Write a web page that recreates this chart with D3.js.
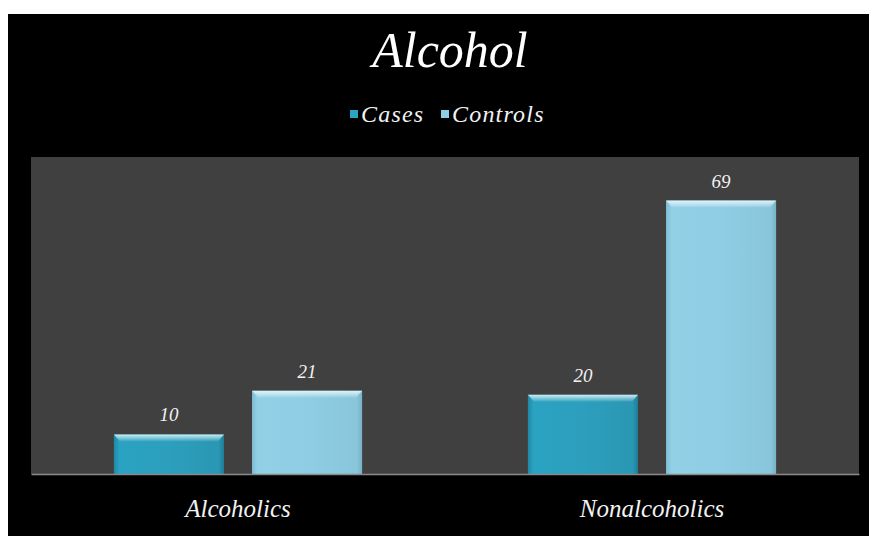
<!DOCTYPE html>
<html>
<head>
<meta charset="utf-8">
<script src="https://cdn.jsdelivr.net/npm/d3@7"></script>
<style>
  html, body { margin: 0; padding: 0; background: #ffffff; }
  svg { display: block; }
  .script { font-family: "Liberation Serif", "DejaVu Serif", serif; font-style: italic; }
</style>
</head>
<body>
<svg id="chart" width="869" height="536"></svg>
<script>
// Chart data
const categories = ["Alcoholics", "Nonalcoholics"];
const seriesNames = ["Cases", "Controls"];
const cases = [10, 20];
const controls = [21, 69];
const yMax = 80;
const chartTitle = "Alcohol";

const W = 869, H = 536;
const svg = d3.select("#chart");

// Outer chart background
svg.append("rect").attr("x", 8).attr("y", 14).attr("width", W - 8).attr("height", H - 14).attr("fill", "#000");

// Plot area
const plot = { left: 31, right: 859, top: 157, bottom: 474 };
svg.append("rect")
  .attr("x", plot.left).attr("y", plot.top)
  .attr("width", plot.right - plot.left).attr("height", plot.bottom - plot.top)
  .attr("fill", "#404040");

const x0 = d3.scaleBand().domain(categories).range([plot.left, plot.right]).paddingInner(0).paddingOuter(0);
const x1 = d3.scaleBand().domain(seriesNames).range([0, x0.bandwidth()]).paddingInner(0.203).paddingOuter(0.6);
const y = d3.scaleLinear().domain([0, yMax]).range([plot.bottom, plot.top]);

// Gradients for bar fills
const defs = svg.append("defs");
function hgrad(id, stops) {
  const g = defs.append("linearGradient").attr("id", id).attr("x1", "0").attr("x2", "1").attr("y1", "0").attr("y2", "0");
  stops.forEach(([o, c]) => g.append("stop").attr("offset", o).attr("stop-color", c));
}
hgrad("gCases", [[0, "#1f89a6"], [0.05, "#2aa2c1"], [0.5, "#2c9fbd"], [0.95, "#2a97b4"], [1, "#1d7e99"]]);
hgrad("gControls", [[0, "#7dbcd3"], [0.05, "#92d0e6"], [0.5, "#8ecde3"], [0.95, "#89c6dc"], [1, "#76b3c9"]]);
const vg = defs.append("linearGradient").attr("id", "gTop").attr("x1", "0").attr("x2", "0").attr("y1", "0").attr("y2", "1");
vg.append("stop").attr("offset", 0).attr("stop-color", "#e8fcff").attr("stop-opacity", 0.85);
vg.append("stop").attr("offset", 1).attr("stop-color", "#ffffff").attr("stop-opacity", 0.05);

const seriesData = [
  { name: "Cases", values: cases, fill: "url(#gCases)", swatch: "#2ba3c2" },
  { name: "Controls", values: controls, fill: "url(#gControls)", swatch: "#8ecde3" }
];

const groups = svg.append("g").selectAll("g")
  .data(categories)
  .join("g")
  .attr("transform", d => `translate(${x0(d)},0)`);

groups.each(function(cat, ci) {
  const g = d3.select(this);
  seriesData.forEach(s => {
    const v = s.values[ci];
    const bx = x1(s.name), bw = x1.bandwidth();
    const by = y(v), bh = y(0) - y(v);
    g.append("rect").attr("x", bx).attr("y", by).attr("width", bw).attr("height", bh).attr("fill", s.fill);
    // bevelled top edge
    g.append("path")
      .attr("d", `M${bx},${by} L${bx + bw},${by} L${bx + bw - 6},${by + 7} L${bx + 6},${by + 7} Z`)
      .attr("fill", "url(#gTop)");
    g.append("text")
      .attr("class", "script")
      .attr("x", bx + bw / 2).attr("y", by - 13)
      .attr("text-anchor", "middle")
      .attr("font-size", 19)
      .attr("fill", "#f2f2f2")
      .text(v);
  });
});

// Category axis
const xAxis = svg.append("g")
  .attr("transform", `translate(0,${plot.bottom})`)
  .call(d3.axisBottom(x0).tickSize(0).tickPadding(25));
xAxis.select(".domain").attr("stroke", "#8a8a8a").attr("stroke-width", 1.5);
xAxis.selectAll("text")
  .attr("class", "script")
  .attr("font-size", 25)
  .attr("fill", "#f2f2f2");

// Title
svg.append("text")
  .attr("class", "script")
  .attr("x", 450).attr("y", 67)
  .attr("text-anchor", "middle")
  .attr("font-size", 50)
  .attr("fill", "#ffffff")
  .text(chartTitle);

// Legend
const legend = svg.append("g");
const legendPos = [{ sx: 350, tx: 361 }, { sx: 441, tx: 452 }];
seriesData.forEach((s, i) => {
  legend.append("rect").attr("x", legendPos[i].sx).attr("y", 110).attr("width", 8).attr("height", 8).attr("fill", s.swatch);
  legend.append("text")
    .attr("class", "script")
    .attr("x", legendPos[i].tx).attr("y", 122)
    .attr("font-size", 24)
    .attr("letter-spacing", 1.2)
    .attr("fill", "#f2f2f2")
    .text(s.name);
});
</script>
</body>
</html>
